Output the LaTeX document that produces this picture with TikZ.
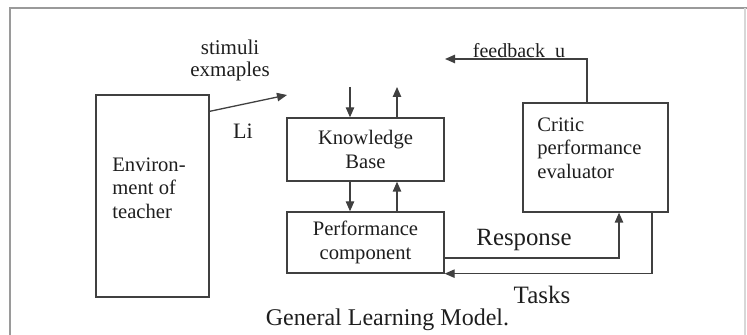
\documentclass[tikz,border=0pt]{standalone}
\usepackage{fontspec}
\setmainfont{Liberation Serif}
\usetikzlibrary{arrows.meta,positioning}
\definecolor{modelink}{HTML}{1E1E1E}
\definecolor{modelline}{HTML}{404040}
\definecolor{modelframe}{HTML}{9A9A9A}

\begin{document}
\begin{tikzpicture}[x=.5pt,y=.5pt,
    blk/.style={draw=modelline,line width=.65pt,inner sep=0pt,text=modelink,
      align=center,font=\fontsize{10.3}{11.75}\selectfont},
    blktext/.style={inner sep=0pt,text=modelink,align=left,
      font=\fontsize{10.3}{11.75}\selectfont},
    lbl/.style={inner sep=0pt,text=modelink},
    arr/.style={draw=modelline,line width=.65pt,
      -{Triangle[length=5pt,width=4.2pt]}}]
  \useasboundingbox (0,0) rectangle (747,335);

  % frame
  \draw[modelframe,line width=1pt] (10,0) -- (10,327) -- (747,327);
  \draw[modelframe!40,line width=.6pt] (745,327) -- (745,0);

  % blocks
  \node[blk,minimum width=56.5pt,minimum height=101pt] (env) at (152.5,139) {};
  \node[blktext,anchor=north west] (envtext) at (112,178) {Environ-\\ment of\\teacher};
  \node[blk,minimum width=78.5pt,minimum height=31.5pt] (kb) at (365.5,185.5) {Knowledge\\Base};
  \node[blk,minimum width=78.5pt,minimum height=30.5pt] (pc) at (365.5,92.5) {Performance\\component};
  \node[blk,minimum width=72.5pt,minimum height=54.5pt] (critic) at (595.5,177.5) {};
  \node[blktext,anchor=north west] (critictext) at (537,218) {Critic\\performance\\evaluator};

  % free ends
  \coordinate (stimtip) at (287,240);
  \coordinate (kbin) at (350,248);
  \coordinate (kbout) at (397,248);
  \coordinate (fbtip) at (445,276);

  % connectors
  \draw[arr] ([yshift=-8.5pt]env.north east) -- (stimtip);
  \draw[arr] (kbin) -- (kbin |- kb.north);
  \draw[arr] (kbout |- kb.north) -- (kbout);
  \draw[arr] (kbin |- kb.south) -- (kbin |- pc.north);
  \draw[arr] (kbout |- pc.north) -- (kbout |- kb.south);
  \draw[arr] ([xshift=-4.25pt]critic.north) |- (fbtip);
  \draw[arr] ([yshift=-7.75pt]pc.east) -| ([xshift=11.75pt]critic.south);
  \draw[arr] ([xshift=28.25pt]critic.south) |- (pc.south east);

  % labels
  \node[lbl,align=center,font=\fontsize{10.5}{11}\selectfont] (stimlbl) at (230,275) {stimuli\\exmaples};
  \node[lbl,font=\fontsize{11}{13}\selectfont] (lilbl) at (243,204) {Li};
  \node[lbl,anchor=south,font=\fontsize{10}{12}\selectfont] (fblbl) at (519,277) {feedback\ \ u};
  \node[lbl,font=\fontsize{12.4}{14}\selectfont] (resplbl) at (524,95) {Response};
  \node[lbl,font=\fontsize{12.5}{14}\selectfont] (tasklbl) at (542,40) {Tasks};
  \node[lbl,font=\fontsize{12}{14}\selectfont] (caption) at (387.5,15) {General Learning Model.};
\end{tikzpicture}
\end{document}
